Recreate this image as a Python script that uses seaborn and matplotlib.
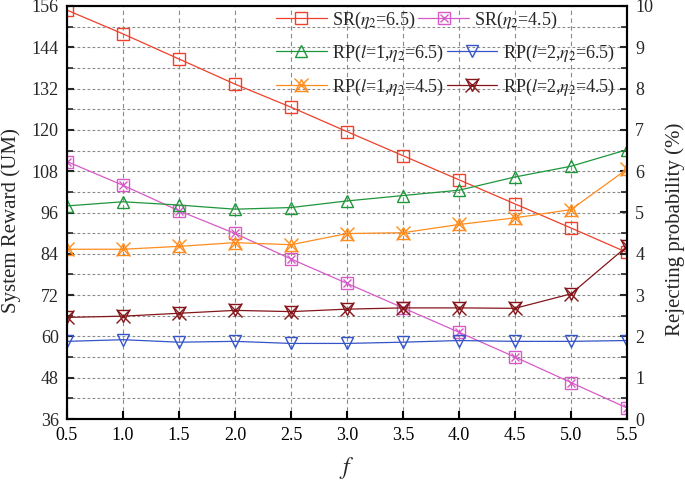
import matplotlib
matplotlib.use("Agg")
import matplotlib.pyplot as plt
import seaborn as sns
from matplotlib.legend import Legend
from matplotlib.legend_handler import HandlerTuple
from matplotlib.ticker import MultipleLocator

# data
f_vals = [0.5, 1.0, 1.5, 2.0, 2.5, 3.0, 3.5, 4.0, 4.5, 5.0, 5.5]
x_ticklabels = ["0.5", "1.0", "1.5", "2.0", "2.5", "3.0", "3.5", "4.0", "4.5", "5.0", "5.5"]

# system reward (UM), left axis
sr_65 = [154.8, 147.9, 140.6, 133.3, 126.6, 119.5, 112.5, 105.5, 98.5, 91.5, 84.4]
sr_45 = [110.8, 103.9, 96.5, 89.9, 82.5, 75.4, 68.3, 61.2, 54.0, 46.6, 39.2]

# rejecting probability (%), right axis
rp_l1_65 = [5.16, 5.26, 5.18, 5.08, 5.12, 5.28, 5.41, 5.54, 5.86, 6.12, 6.52]
rp_l2_65 = [1.88, 1.92, 1.86, 1.88, 1.83, 1.83, 1.86, 1.90, 1.88, 1.88, 1.90]
rp_l1_45 = [4.11, 4.11, 4.18, 4.27, 4.22, 4.49, 4.51, 4.71, 4.87, 5.07, 6.05]
rp_l2_45 = [2.46, 2.49, 2.56, 2.63, 2.60, 2.66, 2.69, 2.69, 2.68, 3.03, 4.18]

labels = [r"SR($\eta_2$=6.5)", r"SR($\eta_2$=4.5)",
          r"RP($l$=1,$\eta_2$=6.5)", r"RP($l$=2,$\eta_2$=6.5)",
          r"RP($l$=1,$\eta_2$=4.5)", r"RP($l$=2,$\eta_2$=4.5)"]

red, pink, green = "#f0402a", "#d85ac8", "#1e963c"
blue, orange, brown = "#3454c8", "#ff8c1e", "#84161a"

sns.set_theme(style="ticks")
plt.rcParams["font.family"] = ["Liberation Serif", "DejaVu Serif"]
plt.rcParams["mathtext.fontset"] = "stix"

fig = plt.figure(figsize=(6.85, 4.84), dpi=100)
ax = fig.add_axes([67 / 685, 1 - 419 / 484, 560 / 685, 413 / 484])
ax2 = ax.twinx()


def draw(a, y, color, marker, ms, ls="-"):
    sns.lineplot(x=f_vals, y=y, ax=a, color=color, lw=0.9, linestyle=ls,
                 marker=marker, markersize=ms, markerfacecolor="none",
                 markeredgecolor=color, markeredgewidth=1.0)
    return a.lines[-1]


h1 = draw(ax, sr_65, red, "s", 8)
h2a = draw(ax, sr_45, pink, "s", 8)
h2b = draw(ax, sr_45, pink, "x", 6, ls="none")
h3 = draw(ax2, rp_l1_65, green, "^", 9)
h4 = draw(ax2, rp_l2_65, blue, "v", 9)
h5a = draw(ax2, rp_l1_45, orange, "x", 10)
h5b = draw(ax2, rp_l1_45, orange, "^", 8, ls="none")
h6a = draw(ax2, rp_l2_45, brown, "x", 10)
h6b = draw(ax2, rp_l2_45, brown, "v", 8, ls="none")

# axes limits and ticks
ax.set_xlim(0.5, 5.5)
ax.set_xticks(f_vals)
ax.set_xticklabels(x_ticklabels)
ax.set_ylim(36, 156)
ax.yaxis.set_major_locator(MultipleLocator(12))
ax.yaxis.set_minor_locator(MultipleLocator(6))
ax2.set_ylim(0, 10)
ax2.yaxis.set_major_locator(MultipleLocator(1))
ax2.yaxis.set_minor_locator(MultipleLocator(0.5))

grid_kw = dict(color="#8a8a8a", lw=0.8)
ax.grid(axis="x", which="major", linestyle=(0, (4, 3)), **grid_kw)
ax.grid(axis="y", which="both", linestyle=(0, (2.5, 2)), **grid_kw)
ax.set_axisbelow(True)

for a in (ax, ax2):
    for s in a.spines.values():
        s.set_linewidth(1.5)
        s.set_color("black")
ax.tick_params(axis="x", which="major", direction="in", length=6, width=1.5,
               labelsize=13, pad=6, top=False, colors="black")
ax.tick_params(axis="y", which="major", direction="in", length=5, width=1.5,
               labelsize=13, pad=6, right=False)
ax.tick_params(axis="y", which="minor", direction="in", length=4, width=1.2, right=False)
ax2.tick_params(axis="y", which="major", direction="in", length=5, width=1.5,
                labelsize=13, pad=6)
ax2.tick_params(axis="y", which="minor", direction="in", length=4, width=1.2)

ax.set_xlabel("$f$", fontsize=17, labelpad=8)
ax.set_ylabel("System Reward (UM)", fontsize=15)
ax.yaxis.set_label_coords(-0.082, 0.48)
ax2.set_ylabel("Rejecting probability (%)", fontsize=15)
ax2.yaxis.set_label_coords(1.068, 0.46)

# legend: three rows, each one flows handle/text/handle/text
rows = [((h1, labels[0]), ((h2a, h2b), labels[1])),
        ((h3, labels[2]), (h4, labels[3])),
        (((h5a, h5b), labels[4]), ((h6a, h6b), labels[5]))]
row_y = [20, 53, 87]
for (e1, e2), yy in zip(rows, row_y):
    leg = Legend(ax2, [e1[0], e2[0]], [e1[1], e2[1]], ncol=2, frameon=False,
                 loc="center left", bbox_to_anchor=(276 / 685, 1 - yy / 484),
                 bbox_transform=fig.transFigure, fontsize=13,
                 handlelength=2.8, handletextpad=0.3, columnspacing=0.15,
                 borderpad=0, borderaxespad=0,
                 handler_map={tuple: HandlerTuple(ndivide=1)})
    ax2.add_artist(leg)

fig.savefig("out.png", dpi=100)
